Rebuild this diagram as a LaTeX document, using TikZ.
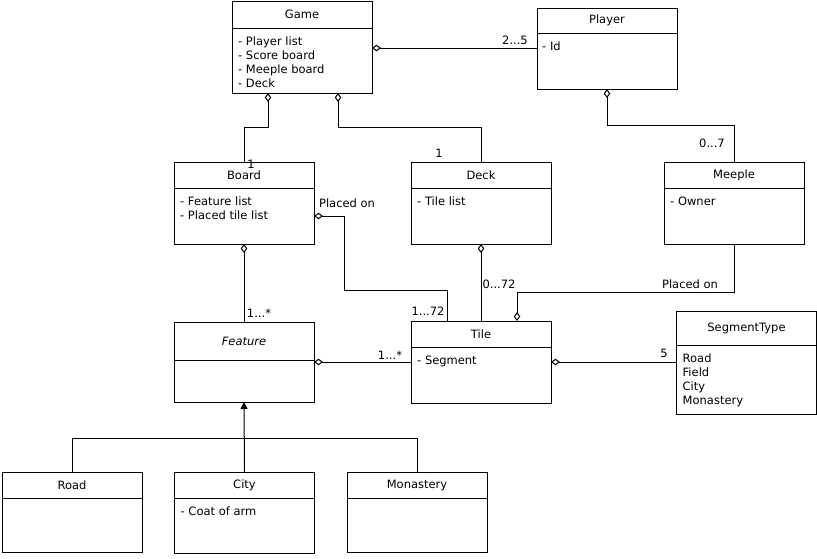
\documentclass[tikz,border=0pt]{standalone}
\usepackage{fontspec}
\setmainfont{DejaVu Sans}
\usepackage{tikz}
\usetikzlibrary{positioning,arrows.meta}

\begin{document}
\begin{tikzpicture}[x=1pt,y=-1pt,font=\fontsize{11.5}{14}\selectfont]
\tikzstyle{classe}=[rectangle, draw, line width=1pt, outer sep=0pt, minimum width=140pt, inner sep=0pt]
\tikzstyle{atributos}=[inner sep=0pt, align=left, anchor=north west]
\tikzstyle{rotulo}=[inner sep=0pt, anchor=base]
\tikzstyle{agrega}=[line width=1pt, {Diamond[open,length=9pt,width=6.5pt]}-]
\tikzstyle{herda}=[line width=1pt, -{Triangle[length=7pt,width=7pt]}]
\useasboundingbox (0,0) rectangle (817,558);
 \node[classe, minimum height=27pt] (game) at (302,14.5) {Game};
 \node[classe, minimum height=65pt, below=0pt of game] (gamebody) {};
 \node[atributos, below right=9pt and 6pt of gamebody.north west] (gameattr)
  {- Player list\\- Score board\\- Meeple board\\- Deck};
 \node[classe, minimum height=25pt] (player) at (607,20.5) {Player};
 \node[classe, minimum height=56pt, below=0pt of player] (playerbody) {};
 \node[atributos, below right=9pt and 5pt of playerbody.north west] (playerattr) {- Id};
 \node[classe, minimum height=26pt] (board) at (244,175) {Board};
 \node[classe, minimum height=56pt, below=0pt of board] (boardbody) {};
 \node[atributos, below right=9pt and 6pt of boardbody.north west] (boardattr)
  {- Feature list\\- Placed tile list};
 \node[classe, minimum height=26pt] (deck) at (481,175) {Deck};
 \node[classe, minimum height=56pt, below=0pt of deck] (deckbody) {};
 \node[atributos, below right=9pt and 6pt of deckbody.north west] (deckattr) {- Tile list};
 \node[classe, minimum height=26pt] (meeple) at (734,175) {Meeple};
 \node[classe, minimum height=56pt, below=0pt of meeple] (meeplebody) {};
 \node[atributos, below right=9pt and 6pt of meeplebody.north west] (meepleattr) {- Owner};
 \node[classe, minimum height=38pt, font=\fontsize{11.5}{14}\selectfont\itshape] (feature) at (244,341) {Feature};
 \node[classe, minimum height=42pt, below=0pt of feature] (featurebody) {};
 \node[classe, minimum height=26pt] (tile) at (481,334) {Tile};
 \node[classe, minimum height=56pt, below=0pt of tile] (tilebody) {};
 \node[atributos, below right=9pt and 6pt of tilebody.north west] (tileattr) {- Segment};
 \node[classe, minimum height=34pt] (segtype) at (746.5,328) {SegmentType};
 \node[classe, minimum height=69pt, below=0pt of segtype] (segtypebody) {};
 \node[atributos, below right=9pt and 6pt of segtypebody.north west] (segtypeattr)
  {Road\\Field\\City\\Monastery};
 \node[classe, minimum height=26pt] (road) at (72,485) {Road};
 \node[classe, minimum height=54pt, below=0pt of road] (roadbody) {};
 \node[classe, minimum height=26pt] (city) at (244.5,485) {City};
 \node[classe, minimum height=55pt, below=0pt of city] (citybody) {};
 \node[atributos, below right=9pt and 6pt of citybody.north west] (cityattr) {- Coat of arm};
 \node[classe, minimum height=26pt] (monastery) at (417,485) {Monastery};
 \node[classe, minimum height=54pt, below=0pt of monastery] (monasterybody) {};

 \draw[agrega] ([yshift=12.5pt]gamebody.east) coordinate (gp) -- (gp -| playerbody.west);
 \draw[agrega] ([xshift=36pt]gamebody.south west) -- ++(0,34) -| (board.north);
 \draw[agrega] ([xshift=106pt]gamebody.south west) -- ++(0,34) -| (deck.north);
 \draw[agrega] (playerbody.south) -- ++(0,36) -| (meeple.north);
 \draw[agrega] (boardbody.east) -- ++(30,0) -- ++(0,74) -| ([xshift=-34pt]tile.north);
 \draw[agrega] (deckbody.south) -- (tile.north);
 \draw[agrega] ([xshift=36pt]tile.north) -- ++(0,-29) -| (meeplebody.south);
 \draw[agrega] (boardbody.south) -- (feature.north);
 \draw[agrega] ([yshift=19pt]featurebody.east) coordinate (ft) -- (ft -| tilebody.west);
 \draw[agrega] ([yshift=13pt]tilebody.east) coordinate (ts) -- (ts -| segtypebody.west);
 \draw[herda] (city.north) -- (featurebody.south);
 \draw[line width=1pt] (road.north) -- ++(0,-34) -| (monastery.north);

 \node[rotulo] (r25) at (515,44) {2...5};
 \node[rotulo] (r1board) at (251,168) {1};
 \node[rotulo] (r1deck) at (439,157) {1};
 \node[rotulo] (r07) at (712,147) {0...7};
 \node[rotulo] (rplacedboard) at (347,207) {Placed on};
 \node[rotulo] (r172) at (428,315) {1...72};
 \node[rotulo] (r072) at (499,288) {0...72};
 \node[rotulo] (rplacedmeeple) at (690,288) {Placed on};
 \node[rotulo] (rfeature) at (259,317) {1...*};
 \node[rotulo] (rtile) at (390,359) {1...*};
 \node[rotulo] (r5) at (664,357) {5};
\end{tikzpicture}
\end{document}
